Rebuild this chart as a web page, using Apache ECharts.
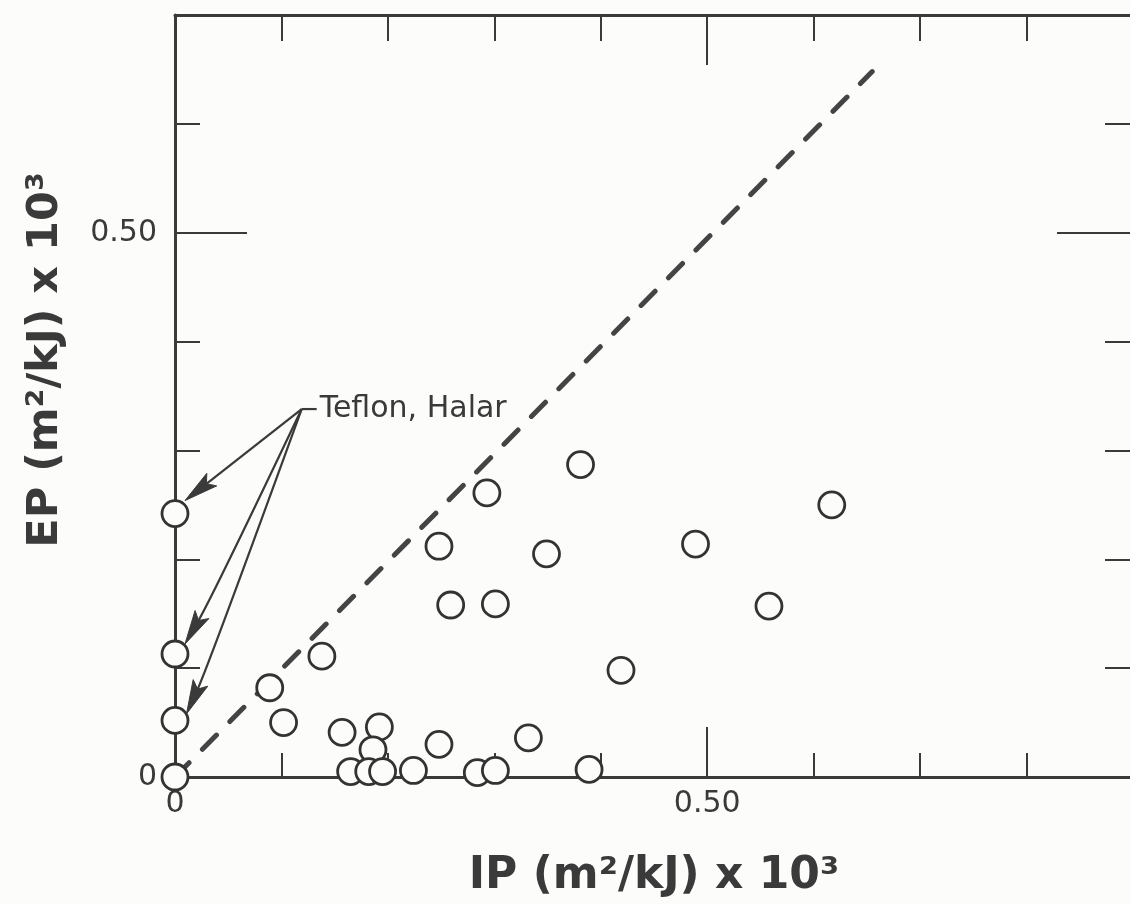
<!DOCTYPE html>
<html>
<head>
<meta charset="utf-8">
<script src="https://cdn.jsdelivr.net/npm/echarts@6/dist/echarts.min.js"></script>
<style>
html,body{margin:0;padding:0;background:#fcfcfa;}
#chart{width:1130px;height:904px;}
</style>
</head>
<body>
<div id="chart"></div>
<script>
// ---- data ----
const teflonIP = [0, 0, 0, 0];
const teflonEP = [0.242, 0.113, 0.052, 0];

const ipValues = [0.248, 0.259, 0.301, 0.293, 0.349, 0.381, 0.489, 0.558, 0.617,
                  0.089, 0.102, 0.138, 0.157, 0.192, 0.186, 0.248, 0.332, 0.419,
                  0.165, 0.182, 0.195, 0.224, 0.284, 0.301, 0.389];
const epValues = [0.212, 0.158, 0.159, 0.261, 0.205, 0.287, 0.214, 0.157, 0.250,
                  0.082, 0.050, 0.111, 0.041, 0.046, 0.025, 0.030, 0.036, 0.098,
                  0.005, 0.005, 0.005, 0.006, 0.004, 0.006, 0.007];

const diagonalIP = [0, 0.655];
const diagonalEP = [0, 0.648];

const xLabelValues = [0, 0.5];
const xLabelTexts = ['0', '0.50'];
const yLabelValues = [0, 0.5];
const yLabelTexts = ['0', '0.50'];

const xTitle = 'IP (m\u00B2/kJ) x 10\u00B3';
const yTitle = 'EP (m\u00B2/kJ) x 10\u00B3';

const annotationText = 'Teflon, Halar';
const annotationAnchor = [0.119, 0.338];

// ---- styling ----
const INK = '#3a3a3a';
const BG = '#fcfcfa';
const FONT = 'DejaVu Sans';

function pick(values, texts) {
  return function (v) {
    for (let i = 0; i < values.length; i++) {
      if (Math.abs(values[i] - v) < 1e-6) return texts[i];
    }
    return '';
  };
}

const X_MIN = 0, X_MAX = 0.9, Y_MIN = 0, Y_MAX = 0.7;

function xAx(opts) {
  return Object.assign({
    type: 'value', min: X_MIN, max: X_MAX, interval: 0.1,
    splitLine: { show: false },
    axisLine: { show: false, onZero: false },
    axisLabel: { show: false },
    axisTick: { show: true, inside: true, length: 24, lineStyle: { color: INK, width: 2 } }
  }, opts);
}
function yAx(opts) {
  return Object.assign({
    type: 'value', min: Y_MIN, max: Y_MAX, interval: 0.1,
    splitLine: { show: false },
    axisLine: { show: false, onZero: false },
    axisLabel: { show: false },
    axisTick: { show: true, inside: true, length: 25, lineStyle: { color: INK, width: 2 } }
  }, opts);
}

const chart = echarts.init(document.getElementById('chart'), null, { renderer: 'canvas' });

const option = {
  backgroundColor: BG,
  animation: false,
  grid: { left: 175, top: 15, width: 958, height: 762, containLabel: false, outerBoundsMode: 'none' },
  xAxis: [
    xAx({
      position: 'bottom',
      axisLine: { show: true, onZero: false, lineStyle: { color: INK, width: 3 } },
      axisLabel: { show: true, margin: 12, formatter: pick(xLabelValues, xLabelTexts),
                   color: INK, fontFamily: FONT, fontSize: 30 },
      name: xTitle, nameLocation: 'middle', nameGap: 78,
      nameTextStyle: { color: INK, fontFamily: FONT, fontWeight: 'bold', fontSize: 44 }
    }),
    xAx({ position: 'bottom', interval: 0.5,
          axisTick: { show: true, inside: true, length: 50, lineStyle: { color: INK, width: 2 } } }),
    xAx({ position: 'top',
          axisLine: { show: true, onZero: false, lineStyle: { color: INK, width: 3 } },
          axisTick: { show: true, inside: true, length: 26, lineStyle: { color: INK, width: 2 } } }),
    xAx({ position: 'top', interval: 0.5,
          axisTick: { show: true, inside: true, length: 50, lineStyle: { color: INK, width: 2 } } })
  ],
  yAxis: [
    yAx({
      position: 'left',
      axisLine: { show: true, onZero: false, lineStyle: { color: INK, width: 3 } },
      axisLabel: { show: true, margin: 18, formatter: pick(yLabelValues, yLabelTexts),
                   color: INK, fontFamily: FONT, fontSize: 30 },
      name: yTitle, nameLocation: 'middle', nameGap: 108, nameRotate: 90,
      nameTextStyle: { color: INK, fontFamily: FONT, fontWeight: 'bold', fontSize: 43,
                       padding: [0, 0, 0, 72] }
    }),
    yAx({ position: 'left', interval: 0.5,
          axisTick: { show: true, inside: true, length: 72, lineStyle: { color: INK, width: 2 } } }),
    yAx({ position: 'right',
          axisLine: { show: true, onZero: false, lineStyle: { color: INK, width: 3 } },
          axisTick: { show: true, inside: true, length: 28, lineStyle: { color: INK, width: 2 } } }),
    yAx({ position: 'right', interval: 0.5,
          axisTick: { show: true, inside: true, length: 76, lineStyle: { color: INK, width: 2 } } })
  ],
  series: [
    {
      name: 'IP = EP',
      type: 'line',
      xAxisIndex: 0, yAxisIndex: 0,
      data: diagonalIP.map((x, i) => [x, diagonalEP[i]]),
      symbol: 'none',
      lineStyle: { color: '#444', width: 5, type: [20, 19], cap: 'round' },
      z: 2
    },
    {
      name: 'Materials',
      type: 'scatter',
      xAxisIndex: 0, yAxisIndex: 0,
      clip: false,
      data: ipValues.map((x, i) => [x, epValues[i]]),
      symbol: 'circle', symbolSize: 26,
      itemStyle: { color: BG, borderColor: '#333', borderWidth: 2.8, opacity: 1 },
      z: 3
    },
    {
      name: 'Teflon, Halar',
      type: 'scatter',
      xAxisIndex: 0, yAxisIndex: 0,
      clip: false,
      data: teflonIP.map((x, i) => [x, teflonEP[i]]),
      symbol: 'circle', symbolSize: 26,
      itemStyle: { color: BG, borderColor: '#333', borderWidth: 2.8, opacity: 1 },
      z: 4
    }
  ]
};
chart.setOption(option);

// ---- annotation: leader + arrows to the Teflon/Halar points ----
function px(pt) { return chart.convertToPixel({ xAxisIndex: 0, yAxisIndex: 0 }, pt); }
function unit(v) { const l = Math.hypot(v[0], v[1]); return [v[0] / l, v[1] / l]; }

const S = px(annotationAnchor);
// tip offsets from each target circle centre and final approach direction (pixel style)
const arrowStyle = [
  { off: [10, -13], dir: null },
  { off: [10, -10], dir: [0.5, -0.866] },
  { off: [11.5, -6.5], dir: [0.41, -0.91] }
];
const HEAD_L = 34, HEAD_W = 16;
const graphics = [];
for (let i = 0; i < 3; i++) {
  const c = px([teflonIP[i], teflonEP[i]]);
  const st = arrowStyle[i];
  const T = [c[0] + st.off[0], c[1] + st.off[1]];
  const d = st.dir ? unit(st.dir) : unit([S[0] - T[0], S[1] - T[1]]);
  const n = [-d[1], d[0]];
  const E = [T[0] + 26 * d[0], T[1] + 26 * d[1]];
  const C = st.dir ? [T[0] + 56 * d[0], T[1] + 56 * d[1]] : [(S[0] + E[0]) / 2, (S[1] + E[1]) / 2];
  graphics.push({
    type: 'bezierCurve', silent: true, z: 10,
    shape: { x1: S[0], y1: S[1], x2: E[0], y2: E[1], cpx1: C[0], cpy1: C[1] },
    style: { stroke: INK, lineWidth: 2.2, fill: null }
  });
  graphics.push({
    type: 'polygon', silent: true, z: 10,
    shape: { points: [
      T,
      [T[0] + HEAD_L * d[0] + HEAD_W / 2 * n[0], T[1] + HEAD_L * d[1] + HEAD_W / 2 * n[1]],
      [T[0] + HEAD_L * 0.8 * d[0], T[1] + HEAD_L * 0.8 * d[1]],
      [T[0] + HEAD_L * d[0] - HEAD_W / 2 * n[0], T[1] + HEAD_L * d[1] - HEAD_W / 2 * n[1]]
    ] },
    style: { fill: INK, stroke: INK, lineWidth: 1 }
  });
}
graphics.push({
  type: 'line', silent: true, z: 10,
  shape: { x1: S[0], y1: S[1], x2: S[0] + 15, y2: S[1] },
  style: { stroke: INK, lineWidth: 2.2 }
});
graphics.push({
  type: 'text', silent: true, z: 10,
  x: S[0] + 18, y: S[1],
  style: { text: annotationText, fill: INK, font: '30px "' + FONT + '"',
           textAlign: 'left', textVerticalAlign: 'middle' }
});
chart.setOption({ graphic: graphics });
</script>
</body>
</html>
